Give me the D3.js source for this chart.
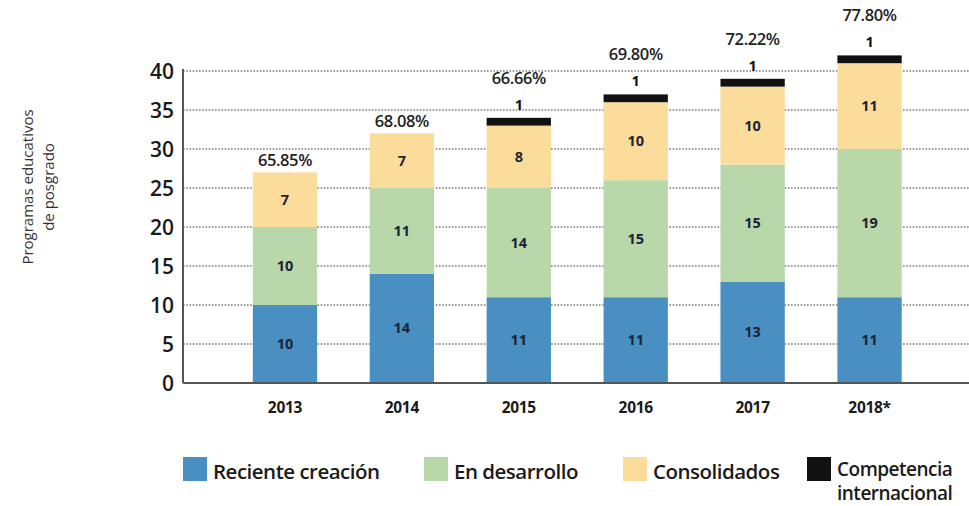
<!DOCTYPE html>
<html>
<head>
<meta charset="utf-8">
<script src="https://cdn.jsdelivr.net/npm/d3@7/dist/d3.min.js"></script>
<style>
  html, body { margin: 0; padding: 0; background: #fff; }
  svg { display: block; font-family: "Open Sans", "Noto Sans", sans-serif; }
</style>
</head>
<body>
<svg id="chart" width="969" height="506"></svg>
<script>
// Posgrado programs by level, per year
const years = ["2013", "2014", "2015", "2016", "2017", "2018*"];
const recienteCreacion = [10, 14, 11, 11, 13, 11];
const enDesarrollo = [10, 11, 14, 15, 15, 19];
const consolidados = [7, 7, 8, 10, 10, 11];
const competenciaInternacional = [0, 0, 1, 1, 1, 1];
const percentLabels = ["65.85%", "68.08%", "66.66%", "69.80%", "72.22%", "77.80%"];
const yTicks = [0, 5, 10, 15, 20, 25, 30, 35, 40];

const seriesNames = ["Reciente creación", "En desarrollo", "Consolidados", "Competencia internacional"];
const seriesKeys = ["rc", "ed", "co", "ci"];
const seriesColors = ["#4a8fc2", "#b9d8a9", "#fcdc9a", "#111111"];

const rows = years.map((y, i) => ({
  year: y,
  rc: recienteCreacion[i],
  ed: enDesarrollo[i],
  co: consolidados[i],
  ci: competenciaInternacional[i],
  pct: percentLabels[i]
}));

const svg = d3.select("#chart");
const axisX = 183, plotRight = 969;

const x = d3.scaleBand()
  .domain(years)
  .range([226.5, 928])
  .paddingInner(0.45)
  .paddingOuter(0.225);

const y = d3.scaleLinear().domain([0, 40]).range([383, 71]);

// dotted gridlines
svg.append("g")
  .selectAll("line")
  .data(yTicks.filter(t => t > 0))
  .join("line")
  .attr("x1", axisX).attr("x2", plotRight)
  .attr("y1", d => y(d)).attr("y2", d => y(d))
  .attr("stroke", "#7a7a7a")
  .attr("stroke-width", 1.3)
  .attr("stroke-dasharray", "1.6,1.6");

// stacked bars
const stack = d3.stack().keys(seriesKeys)(rows);
const color = d3.scaleOrdinal().domain(seriesKeys).range(seriesColors);

const layers = svg.append("g")
  .selectAll("g")
  .data(stack)
  .join("g")
  .attr("fill", d => color(d.key));

layers.selectAll("rect")
  .data(d => d.filter(s => s[1] - s[0] > 0))
  .join("rect")
  .attr("x", d => x(d.data.year))
  .attr("width", x.bandwidth())
  .attr("y", d => y(d[1]))
  .attr("height", d => y(d[0]) - y(d[1]));

// value labels inside the three lower segments
stack.slice(0, 3).forEach(layer => {
  svg.append("g")
    .selectAll("text")
    .data(layer)
    .join("text")
    .attr("x", d => x(d.data.year) + x.bandwidth() / 2)
    .attr("y", d => (y(d[0]) + y(d[1])) / 2 + 5)
    .attr("text-anchor", "middle")
    .attr("font-size", 14.5)
    .attr("font-weight", 700)
    .attr("fill", "#1b2436")
    .text(d => d[1] - d[0]);
});

// "Competencia internacional" counts above the black strip
const ciLayer = stack[3];
svg.append("g")
  .selectAll("text")
  .data(ciLayer.filter(d => d[1] - d[0] > 0))
  .join("text")
  .attr("x", d => x(d.data.year) + x.bandwidth() / 2)
  .attr("y", d => y(d[1]) - 8)
  .attr("text-anchor", "middle")
  .attr("font-size", 14.5)
  .attr("font-weight", 700)
  .attr("fill", "#111")
  .text(d => d[1] - d[0]);

// percentage labels above each column
svg.append("g")
  .selectAll("text")
  .data(ciLayer)
  .join("text")
  .attr("x", d => x(d.data.year) + x.bandwidth() / 2)
  .attr("y", d => y(d[1]) - (d[1] - d[0] > 0 ? 34 : 6))
  .attr("text-anchor", "middle")
  .attr("font-size", 16.5)
  .attr("font-weight", 600)
  .attr("letter-spacing", -0.4)
  .attr("fill", "#222")
  .text(d => d.data.pct);

// axes
svg.append("line")
  .attr("x1", axisX).attr("x2", axisX)
  .attr("y1", y(40) - 2).attr("y2", y(0))
  .attr("stroke", "#555").attr("stroke-width", 2);
svg.append("line")
  .attr("x1", axisX).attr("x2", plotRight)
  .attr("y1", y(0)).attr("y2", y(0))
  .attr("stroke", "#555").attr("stroke-width", 2);

// y tick labels
svg.append("g")
  .selectAll("text")
  .data(yTicks)
  .join("text")
  .attr("x", axisX - 9)
  .attr("y", d => y(d) + 7.5)
  .attr("text-anchor", "end")
  .attr("font-size", 21)
  .attr("font-weight", 600)
  .attr("fill", "#1a1a1a")
  .text(d => d);

// x tick labels
svg.append("g")
  .selectAll("text")
  .data(years)
  .join("text")
  .attr("x", d => x(d) + x.bandwidth() / 2)
  .attr("y", y(0) + 30)
  .attr("text-anchor", "middle")
  .attr("font-size", 15.5)
  .attr("font-weight", 700)
  .attr("letter-spacing", -0.3)
  .attr("fill", "#1a1a1a")
  .text(d => d);

// y axis title
const yTitle = svg.append("text")
  .attr("transform", "translate(33,187) rotate(-90)")
  .attr("text-anchor", "middle")
  .attr("font-size", 15)
  .attr("fill", "#333");
yTitle.append("tspan").attr("x", 0).attr("dy", 0).text("Programas  educativos");
yTitle.append("tspan").attr("x", 0).attr("dy", 21).text("de posgrado");

// legend
const legendX = [183, 424, 623, 807];
const legend = svg.append("g");
seriesNames.forEach((name, i) => {
  const g = legend.append("g").attr("transform", `translate(${legendX[i]},457)`);
  g.append("rect").attr("width", 24).attr("height", 24).attr("fill", seriesColors[i]);
  const twoLine = name === "Competencia internacional";
  const t = g.append("text")
    .attr("x", 30)
    .attr("y", twoLine ? 19 : 22)
    .attr("font-size", twoLine ? 19 : 20.5)
    .attr("font-weight", 600)
    .attr("letter-spacing", -0.5)
    .attr("fill", "#1a1a1a");
  const parts = twoLine ? ["Competencia", "internacional"] : [name];
  parts.forEach((p, j) => t.append("tspan").attr("x", 30).attr("dy", j === 0 ? 0 : 24).text(p));
});
</script>
</body>
</html>
